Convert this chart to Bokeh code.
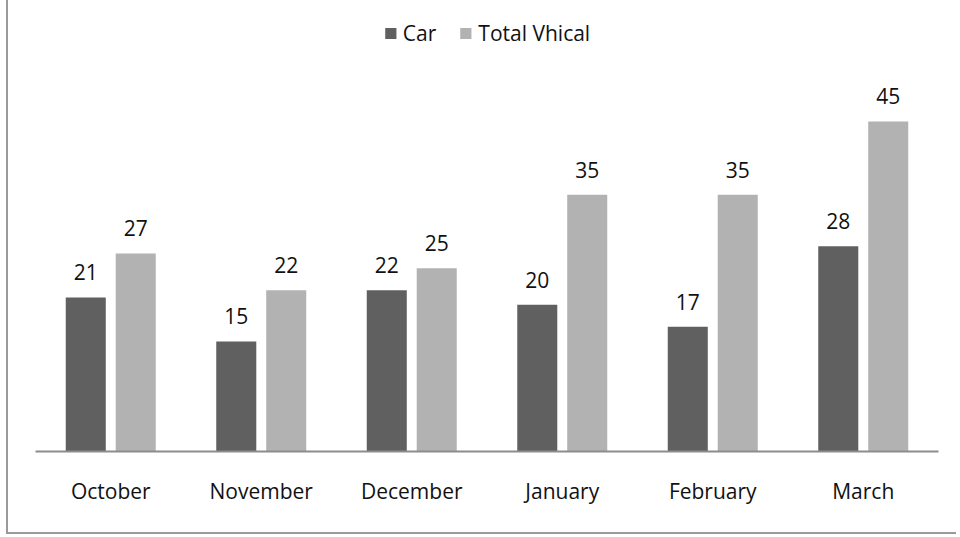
from bokeh.plotting import figure
from bokeh.models import ColumnDataSource, FactorRange, Range1d, Legend, LegendItem
from bokeh.transform import dodge
from bokeh.core.properties import value
from bokeh.embed import file_html
from bokeh.resources import INLINE

months = ["October", "November", "December", "January", "February", "March"]
car = [21, 15, 22, 20, 17, 28]
total = [27, 22, 25, 35, 35, 45]
series_names = ["Car", "Total Vhical"]

FONT = "Open Sans"
FS = "21px"
CAR_COLOR = "#606060"
TOTAL_COLOR = "#b2b2b2"

src = ColumnDataSource(data=dict(
    month=months, car=car, total=total,
    car_lbl=[str(v) for v in car], total_lbl=[str(v) for v in total],
))

p = figure(
    width=950, height=534,
    x_range=FactorRange(factors=months, range_padding=0),
    y_range=Range1d(0, 59.45),
    output_backend="svg", toolbar_location=None,
    min_border_left=27, min_border_right=20, min_border_top=15, min_border_bottom=83,
)
p.styles = {"border-left": "2px solid #9a9a9a", "border-bottom": "2px solid #9a9a9a",
            "margin-left": "6px"}
p.outline_line_color = None
p.background_fill_color = "white"
p.border_fill_color = "white"
p.grid.visible = False
p.yaxis.visible = False

off = 0.166
w = 0.266
r1 = p.vbar(x=dodge("month", -off, range=p.x_range), top="car", width=w, source=src,
            fill_color=CAR_COLOR, line_color=None)
r2 = p.vbar(x=dodge("month", off, range=p.x_range), top="total", width=w, source=src,
            fill_color=TOTAL_COLOR, line_color=None)

for col, lbl, dx in (("car", "car_lbl", -off), ("total", "total_lbl", off)):
    p.text(x=dodge("month", dx, range=p.x_range), y=col, text=lbl, source=src,
           text_align="center", text_baseline="alphabetic", y_offset=-25,
           text_font=value(FONT), text_font_size=FS, text_color="#111111")

ax = p.xaxis[0]
ax.axis_line_color = "#8c8c8c"
ax.axis_line_width = 2
ax.major_tick_line_color = None
ax.minor_tick_line_color = None
ax.major_label_standoff = 19
ax.major_label_text_font = FONT
ax.major_label_text_font_size = FS
ax.major_label_text_color = "#111111"

legend = Legend(items=[LegendItem(label=series_names[0], renderers=[r1]),
                       LegendItem(label=series_names[1], renderers=[r2])],
                location="top_center", orientation="horizontal",
                glyph_width=14, glyph_height=14, label_standoff=6, spacing=22,
                label_text_font=FONT, label_text_font_size=FS, label_text_color="#111111",
                background_fill_alpha=0, border_line_color=None, margin=4, padding=2)
p.add_layout(legend)

open("out.html", "w").write(file_html(p, INLINE))
